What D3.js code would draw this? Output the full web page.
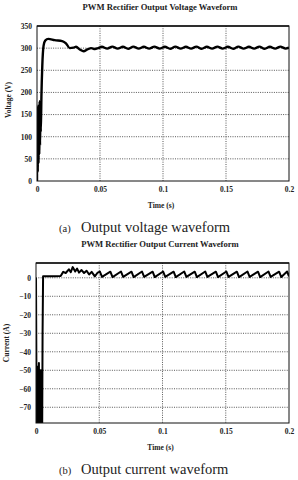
<!DOCTYPE html>
<html>
<head>
<meta charset="utf-8">
<script src="https://cdn.jsdelivr.net/npm/d3@7"></script>
<style>
  body { margin: 0; background: #fff; }
  svg { display: block; }
  .tick text { font-family: "Liberation Serif", serif; font-weight: bold; font-size: 7.5px; fill: #222; }
</style>
</head>
<body>
<div id="chart"></div>
<script>
// voltage waveform (s, V)
const voltTime = [0, 0.0003, 0.0006, 0.0009, 0.0012, 0.0015, 0.0018, 0.0021, 0.0024, 0.0027, 0.003, 0.0035, 0.0042, 0.0052, 0.0065, 0.009, 0.014, 0.02, 0.023, 0.026, 0.029, 0.031, 0.034, 0.037, 0.040, 0.043, 0.046, 0.0485,
  0.0515, 0.0557, 0.0598, 0.064, 0.0682, 0.0723, 0.0765, 0.0807, 0.0848, 0.089, 0.0932, 0.0973, 0.1015, 0.1057, 0.1098, 0.114,
  0.1182, 0.1223, 0.1265, 0.1307, 0.1348, 0.139, 0.1432, 0.1473, 0.1515, 0.1557, 0.1598, 0.164, 0.1682, 0.1723, 0.1765, 0.1807,
  0.1848, 0.189, 0.1932, 0.1973, 0.2];
const voltValue = [0, 140, 20, 170, 40, 160, 60, 180, 80, 150, 110, 190, 260, 305, 317, 321, 318, 316, 311, 300, 301, 303, 297, 293, 297, 300, 298, 300,
  303, 299, 303.5, 299, 303, 298.5, 303.5, 299, 303, 299, 303.5, 299, 303, 298.5, 303.5, 299, 303, 299, 303.5, 298.5,
  303, 299, 303.5, 299, 303, 298.5, 303.5, 299, 303, 299, 303.5, 298.5, 303, 299, 303.5, 299, 301];

// current waveform (s, A)
const currTime = [0, 0.0006, 0.0009, 0.0013, 0.0016, 0.002, 0.0023, 0.0027, 0.003, 0.0034, 0.0037, 0.0041, 0.0044, 0.0048, 0.0052, 0.0056,
  0.010, 0.015, 0.0195, 0.0215, 0.0235, 0.026, 0.0275, 0.029, 0.031, 0.0325, 0.034, 0.036, 0.038, 0.040, 0.042, 0.044, 0.0465, 0.0485,
  0.0505, 0.0522, 0.0588, 0.0605, 0.0672, 0.0689, 0.0755, 0.0772, 0.0838, 0.0855, 0.0922, 0.0939, 0.1005, 0.1022,
  0.1088, 0.1105, 0.1172, 0.1189, 0.1255, 0.1272, 0.1338, 0.1355, 0.1422, 0.1439, 0.1505, 0.1522, 0.1588, 0.1605,
  0.1672, 0.1689, 0.1755, 0.1772, 0.1838, 0.1855, 0.1922, 0.1939, 0.1985, 0.2];
const currValue = [0, -95, -48, -95, -55, -95, -46, -95, -60, -95, -50, -95, -58, -95, -30, 0.8,
  0.8, 0.9, 1, 3.2, 2.6, 4.6, 3, 5.8, 3.4, 5, 2.8, 4.2, 2.6, 3.8, 1.8, 3.2, 0.8, 2.6,
  3.4, 0.5, 3.3, 0.4, 3.4, 0.5, 3.3, 0.4, 3.4, 0.5, 3.3, 0.4, 3.4, 0.5,
  3.3, 0.4, 3.4, 0.5, 3.3, 0.4, 3.4, 0.5, 3.3, 0.4, 3.4, 0.5, 3.3, 0.4,
  3.4, 0.5, 3.3, 0.4, 3.4, 0.5, 3.3, 0.4, 3.4, 0.8];

const timeTicks = [0, 0.05, 0.1, 0.15, 0.2];
const voltTicks = [0, 50, 100, 150, 200, 250, 300, 350];
const currTicks = [0, -10, -20, -30, -40, -50, -60, -70];

const W = 298, H = 480;
const svg = d3.select("#chart").append("svg")
  .attr("width", W)
  .attr("height", H);

function drawPanel(opt) {
  let x = d3.scaleLinear().domain([0, 0.2]).range([opt.left, opt.right]);
  let y = d3.scaleLinear().domain(opt.yDomain).range([opt.bottom, opt.top]);
  let g = svg.append("g");

  // title
  g.append("text")
    .attr("x", 160).attr("y", opt.top - 16)
    .attr("text-anchor", "middle")
    .style("font-family", "Liberation Serif, serif")
    .style("font-weight", "bold")
    .style("font-size", "8.6px")
    .style("fill", "#222")
    .text(opt.title);

  // dotted grid
  g.append("g").selectAll("line.h")
    .data(opt.yTicks.filter(d => y(d) > opt.top + 1 && y(d) < opt.bottom - 1))
    .enter().append("line")
      .attr("x1", opt.left).attr("x2", opt.right)
      .attr("y1", d => y(d)).attr("y2", d => y(d))
      .attr("stroke", "#444").attr("stroke-width", 0.9)
      .attr("stroke-dasharray", "1,1.3");
  g.append("g").selectAll("line.v")
    .data(timeTicks.slice(1, -1))
    .enter().append("line")
      .attr("x1", d => x(d)).attr("x2", d => x(d))
      .attr("y1", opt.top).attr("y2", opt.bottom)
      .attr("stroke", "#444").attr("stroke-width", 0.9)
      .attr("stroke-dasharray", "1,1.3");

  // axes (labels only)
  g.append("g")
    .attr("transform", "translate(0," + opt.bottom + ")")
    .call(d3.axisBottom(x).tickValues(timeTicks).tickSize(0).tickPadding(6)
      .tickFormat(d => d === 0 ? "0" : String(d)))
    .call(a => a.select(".domain").remove());
  g.append("g")
    .attr("transform", "translate(" + opt.left + ",0)")
    .call(d3.axisLeft(y).tickValues(opt.yTicks).tickSize(0).tickPadding(5))
    .call(a => a.select(".domain").remove());

  // clip + trace
  g.append("clipPath").attr("id", opt.id)
    .append("rect")
      .attr("x", opt.left).attr("y", opt.top)
      .attr("width", opt.right - opt.left).attr("height", opt.bottom - opt.top);

  let pts = opt.t.map((d, i) => [d, opt.v[i]]);
  let line = d3.line()
    .x(d => x(d[0]))
    .y(d => y(d[1]))
    .curve(opt.curve);
  g.append("path")
    .datum(pts)
    .attr("clip-path", "url(#" + opt.id + ")")
    .attr("fill", "none")
    .attr("stroke", "#000")
    .attr("stroke-width", opt.lw)
    .attr("stroke-linejoin", "round")
    .attr("d", line);

  // frame
  g.append("rect")
    .attr("x", opt.left).attr("y", opt.top)
    .attr("width", opt.right - opt.left).attr("height", opt.bottom - opt.top)
    .attr("fill", "none").attr("stroke", "#111").attr("stroke-width", 1);
  g.append("line")
    .attr("x1", opt.left).attr("x2", opt.right)
    .attr("y1", opt.top).attr("y2", opt.top)
    .attr("stroke", "#111").attr("stroke-width", 1.6);

  // axis titles
  g.append("text")
    .attr("x", (opt.left + opt.right) / 2 - 2).attr("y", opt.bottom + 27)
    .attr("text-anchor", "middle")
    .style("font-family", "Liberation Serif, serif")
    .style("font-weight", "bold").style("font-size", "7.5px").style("fill", "#222")
    .text("Time (s)");
  g.append("text")
    .attr("transform", "translate(" + opt.ylabX + "," + opt.ylabY + ") rotate(-90)")
    .attr("text-anchor", "middle")
    .style("font-family", "Liberation Serif, serif")
    .style("font-weight", "bold").style("font-size", "7.5px").style("fill", "#222")
    .text(opt.ylab);

  // caption
  g.append("text")
    .attr("x", 59).attr("y", opt.bottom + 51)
    .style("font-family", "Liberation Serif, serif")
    .style("font-size", "10.5px").style("fill", "#222")
    .text(opt.tag);
  g.append("text")
    .attr("x", 81).attr("y", opt.bottom + 51)
    .style("font-family", "Liberation Serif, serif")
    .style("font-size", "14.5px").style("fill", "#222")
    .text(opt.caption);
}

drawPanel({
  id: "clipV", left: 37, right: 289, top: 26, bottom: 181,
  yDomain: [0, 350], yTicks: voltTicks,
  t: voltTime, v: voltValue, lw: 2.4, curve: d3.curveMonotoneX,
  title: "PWM Rectifier Output Voltage Waveform",
  ylab: "Voltage (V)", ylabX: 11, ylabY: 100,
  tag: "(a)", caption: "Output voltage waveform"
});

drawPanel({
  id: "clipC", left: 36, right: 289, top: 263, bottom: 423,
  yDomain: [-78.5, 8], yTicks: currTicks,
  t: currTime, v: currValue, lw: 2, curve: d3.curveLinear,
  title: "PWM Rectifier Output Current Waveform",
  ylab: "Current (A)", ylabX: 9, ylabY: 343,
  tag: "(b)", caption: "Output current waveform"
});
</script>
</body>
</html>
